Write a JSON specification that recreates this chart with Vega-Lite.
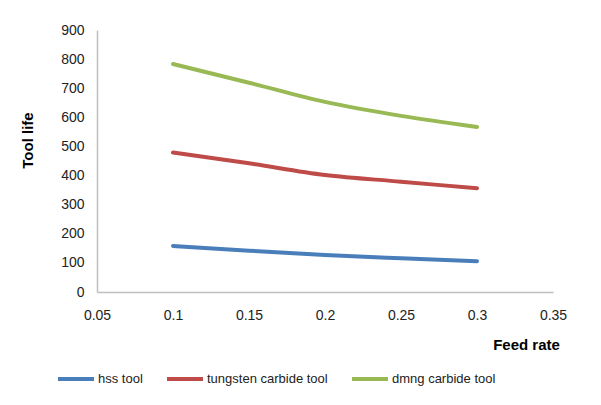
{
  "$schema": "https://vega.github.io/schema/vega-lite/v6.json",
  "autosize": {"type": "none"},
  "width": 456,
  "height": 262,
  "padding": {"left": 97, "top": 30, "right": 48, "bottom": 113},
  "background": "white",
  "config": {
    "view": {"stroke": null},
    "font": "Liberation Sans",
    "axis": {"grid": false, "ticks": false, "domainColor": "#bfbfbf", "domainWidth": 1.5, "labelColor": "#222", "labelFontSize": 14, "titleFontSize": 15, "titleFontWeight": "bold", "titleColor": "#000"}
  },
  "data": {
    "values": [
      {"feed": 0.1, "life": 158, "tool": "hss tool"},
      {"feed": 0.15, "life": 142, "tool": "hss tool"},
      {"feed": 0.2, "life": 127, "tool": "hss tool"},
      {"feed": 0.25, "life": 116, "tool": "hss tool"},
      {"feed": 0.3, "life": 106, "tool": "hss tool"},
      {"feed": 0.1, "life": 479, "tool": "tungsten carbide tool"},
      {"feed": 0.15, "life": 442, "tool": "tungsten carbide tool"},
      {"feed": 0.2, "life": 402, "tool": "tungsten carbide tool"},
      {"feed": 0.25, "life": 379, "tool": "tungsten carbide tool"},
      {"feed": 0.3, "life": 356, "tool": "tungsten carbide tool"},
      {"feed": 0.1, "life": 783, "tool": "dmng carbide tool"},
      {"feed": 0.15, "life": 719, "tool": "dmng carbide tool"},
      {"feed": 0.2, "life": 653, "tool": "dmng carbide tool"},
      {"feed": 0.25, "life": 605, "tool": "dmng carbide tool"},
      {"feed": 0.3, "life": 567, "tool": "dmng carbide tool"}
    ]
  },
  "mark": {"type": "line", "strokeWidth": 4, "interpolate": "monotone", "strokeCap": "round"},
  "encoding": {
    "x": {
      "field": "feed", "type": "quantitative",
      "scale": {"domain": [0.05, 0.35], "nice": false, "zero": false},
      "axis": {"values": [0.05, 0.1, 0.15, 0.2, 0.25, 0.3, 0.35], "format": "~g", "labelPadding": 16, "labelFlush": false, "title": "Feed rate", "titleX": 429, "titleY": 52, "titleAlign": "center", "titleBaseline": "middle"}
    },
    "y": {
      "field": "life", "type": "quantitative",
      "scale": {"domain": [0, 900], "nice": false},
      "axis": {"values": [0, 100, 200, 300, 400, 500, 600, 700, 800, 900], "labelPadding": 13, "title": "Tool life", "titleX": -70, "titleY": 110, "titleAlign": "center", "titleBaseline": "middle"}
    },
    "color": {
      "field": "tool", "type": "nominal",
      "sort": ["hss tool", "tungsten carbide tool", "dmng carbide tool"],
      "scale": {"domain": ["hss tool", "tungsten carbide tool", "dmng carbide tool"], "range": ["#4a7ebb", "#be4b48", "#98b954"]},
      "legend": {"title": null, "orient": "none", "direction": "horizontal", "legendX": -41, "legendY": 329, "symbolType": "stroke", "symbolSize": 1296, "symbolStrokeWidth": 4, "labelFontSize": 13, "labelColor": "#222", "labelOffset": 2, "columnPadding": 16}
    }
  }
}
